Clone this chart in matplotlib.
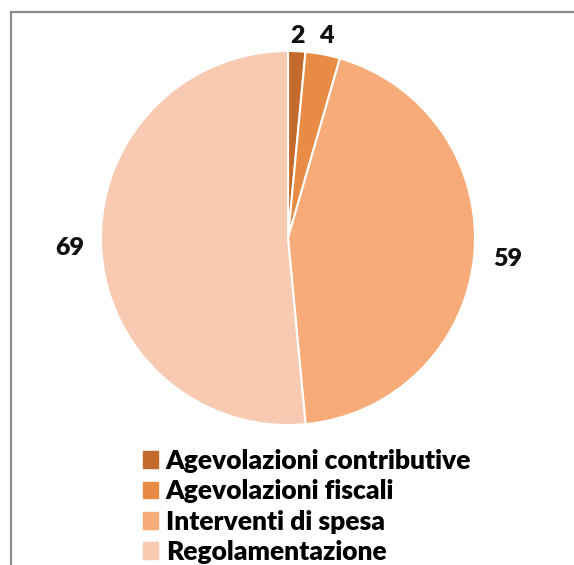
import matplotlib.pyplot as plt
import numpy as np
from matplotlib.patches import Rectangle

# Data
categories = ['Agevolazioni contributive', 'Agevolazioni fiscali',
              'Interventi di spesa', 'Regolamentazione']
values = [2, 4, 59, 69]
colors = ['#C46A2C', '#E88B45', '#F6AB78', '#F8CAB2']
label_dist = [1.08, 1.10, 1.18, 1.17]

W, H = 574, 565
fig = plt.figure(figsize=(W / 100, H / 100), dpi=100)

# outer frame (left + top edges visible, rest cut off)
fig.patches.append(Rectangle((11 / W, -0.1), 1.2, (H - 12) / H + 0.1,
                             transform=fig.transFigure, fill=False,
                             edgecolor='#8C8C8C', linewidth=1.6))

cx, cy, r = 288, 238, 187
ax = fig.add_axes([(cx - r) / W, (H - cy - r) / H, 2 * r / W, 2 * r / H])
wedges, _ = ax.pie(values, colors=colors, startangle=90, counterclock=False,
                   radius=1, wedgeprops={'edgecolor': 'white', 'linewidth': 1.5})
ax.set_xlim(-1, 1)
ax.set_ylim(-1, 1)
ax.set_aspect('auto')
ax.axis('off')

for w, v, d in zip(wedges, values, label_dist):
    ang = np.deg2rad((w.theta1 + w.theta2) / 2)
    ax.text(d * np.cos(ang), d * np.sin(ang), str(v), ha='center', va='center',
            fontsize=18, fontweight='heavy', family='Lato', color='#111111',
            clip_on=False)

handles = [Rectangle((0, 0), 1, 1, color=c) for c in colors]
fig.legend(handles, categories, loc='upper left', bbox_to_anchor=(143 / W, 1 - 449 / H),
           frameon=False, prop={'family': 'Lato', 'weight': 'heavy', 'size': 19},
           handlelength=0.58, handleheight=0.58, handletextpad=0.28,
           labelspacing=0.24, borderpad=0, borderaxespad=0)

fig.savefig('out.png', dpi=100)
